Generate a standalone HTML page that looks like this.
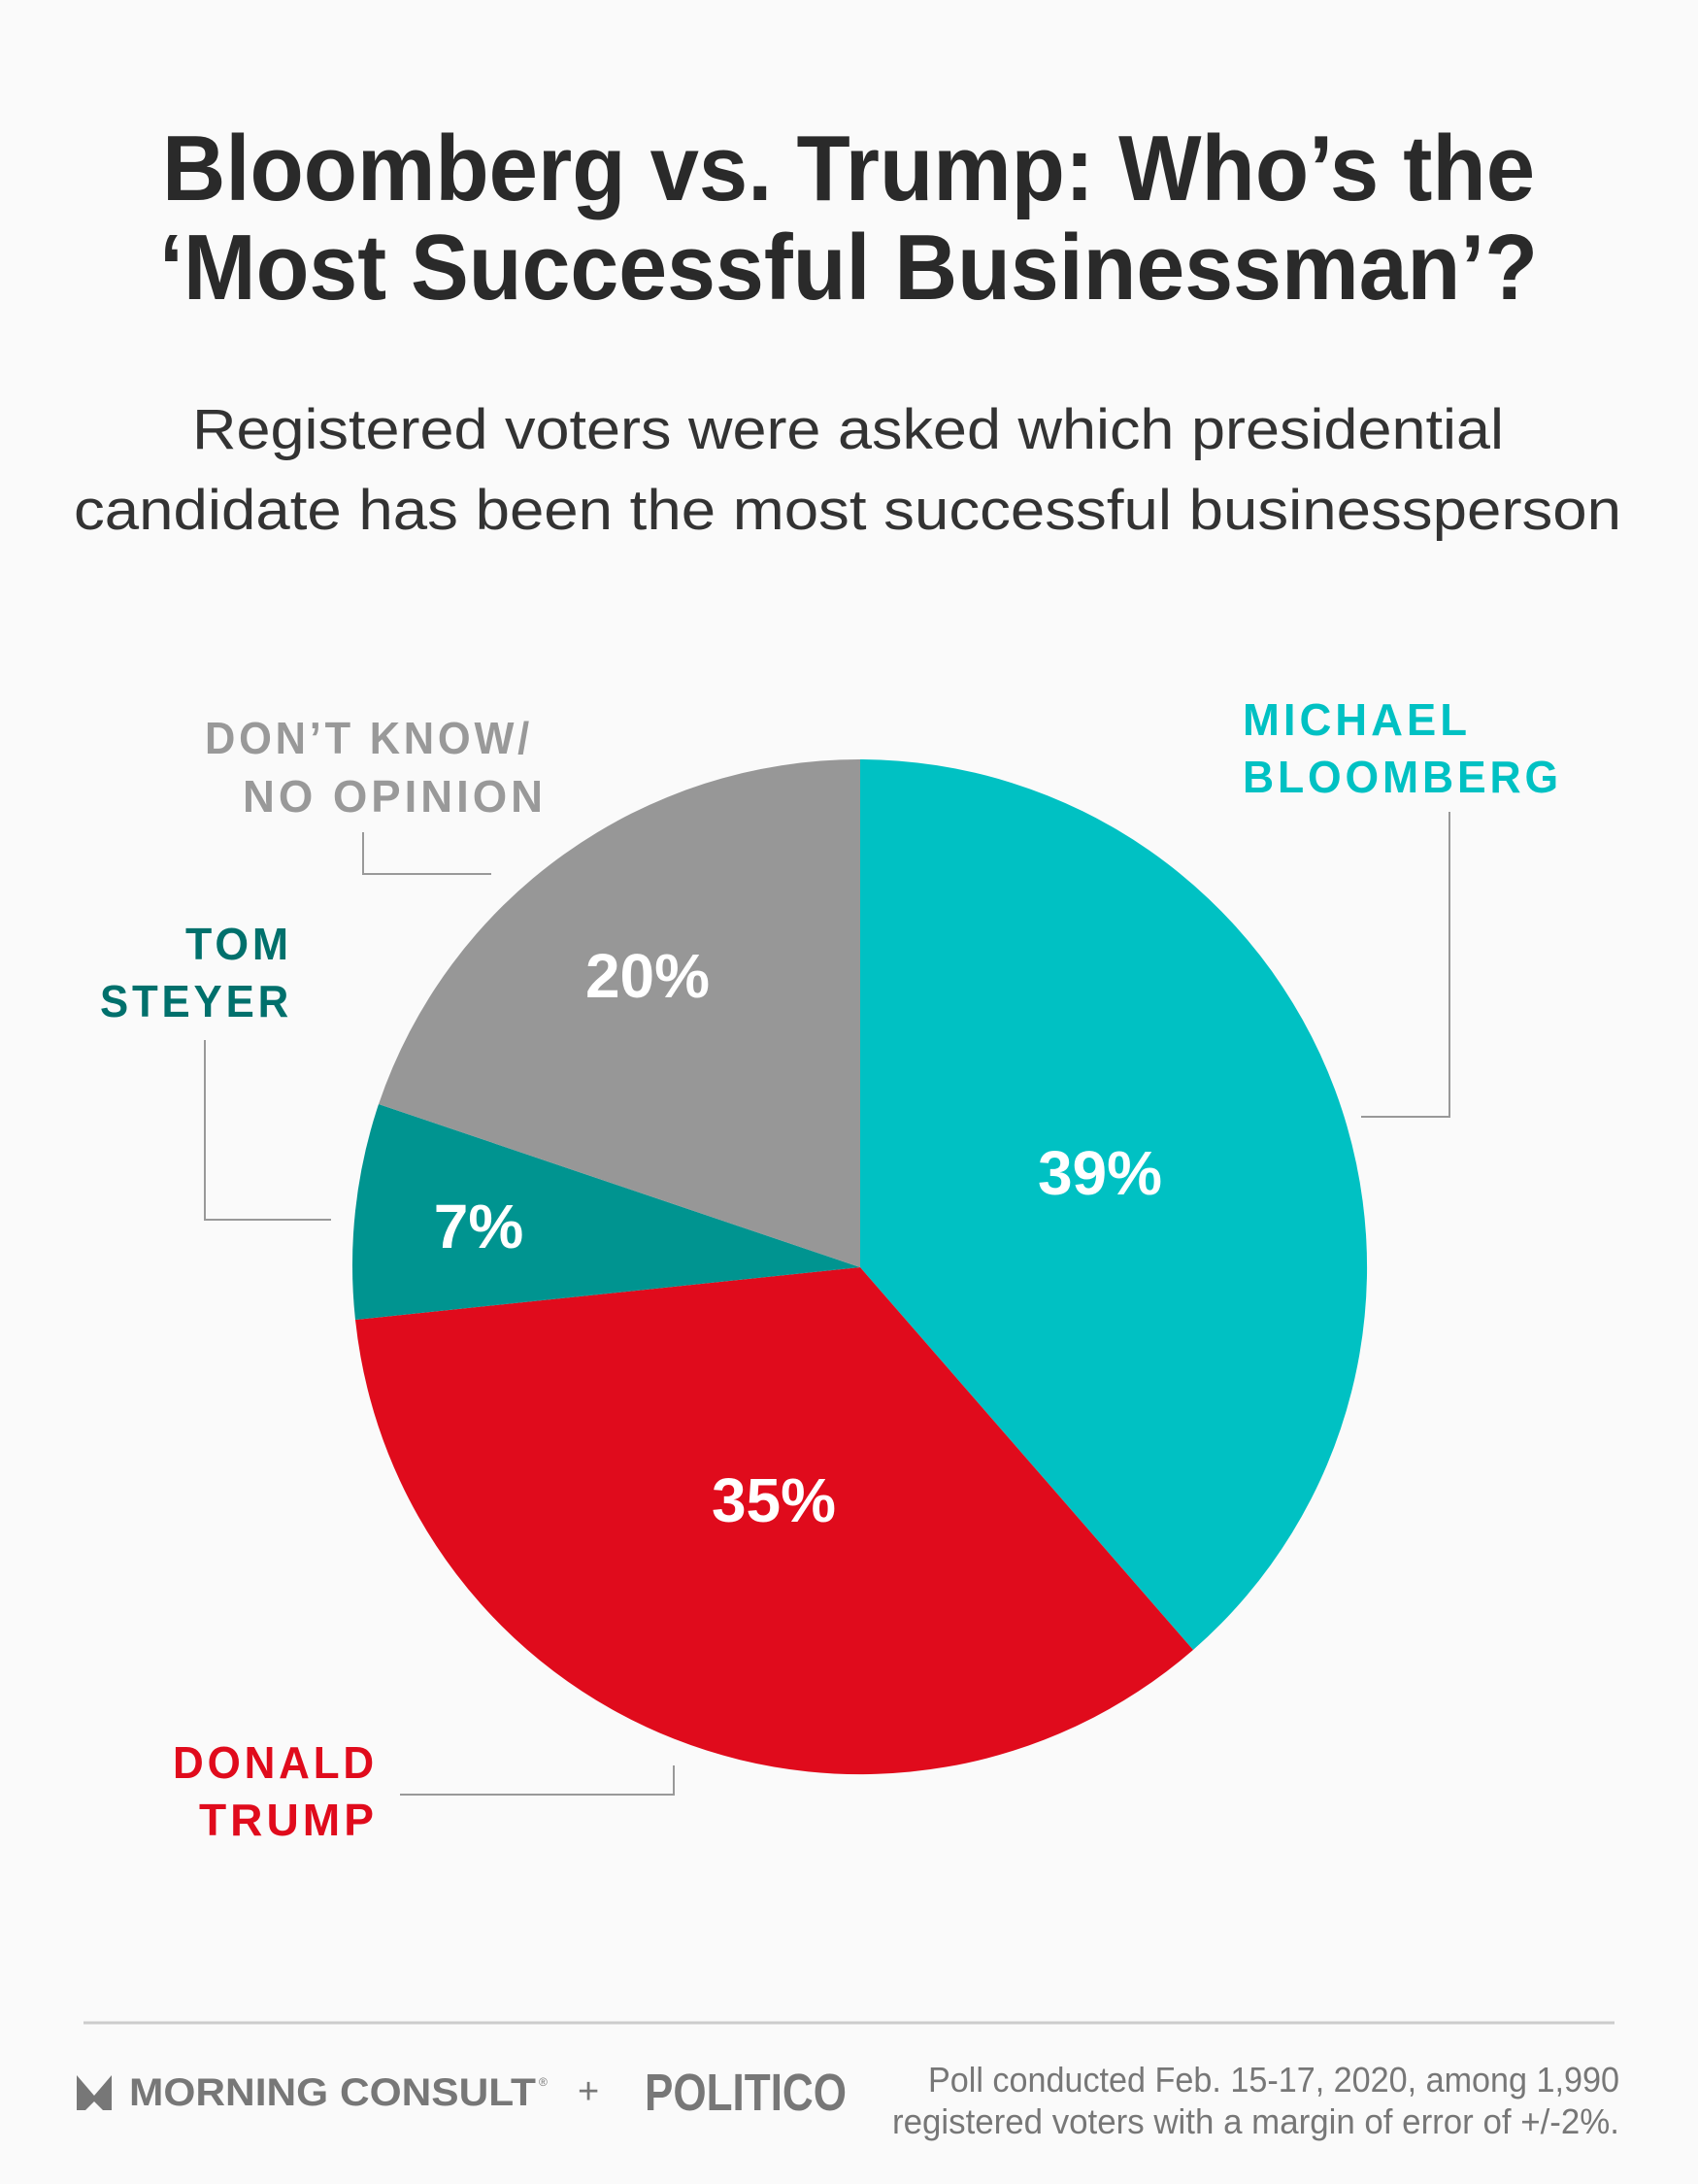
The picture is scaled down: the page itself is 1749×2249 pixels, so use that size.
<!DOCTYPE html>
<html><head><meta charset="utf-8"><style>
html,body{margin:0;padding:0;background:#fafafa}
svg{display:block}
text{font-family:"Liberation Sans",sans-serif}
</style></head><body>
<svg width="1749" height="2249" viewBox="0 0 1749 2249" xmlns="http://www.w3.org/2000/svg">
<rect width="1749" height="2249" fill="#fafafa"/>
<g fill="#2a2a2a" font-weight="bold" font-size="96" text-anchor="middle">
<text x="874" y="206" textLength="1414" lengthAdjust="spacingAndGlyphs">Bloomberg vs. Trump: Who’s the</text>
<text x="874" y="308" textLength="1420" lengthAdjust="spacingAndGlyphs">‘Most Successful Businessman’?</text>
</g>
<g fill="#333" font-size="58">
<text x="198" y="462" textLength="1351" lengthAdjust="spacingAndGlyphs">Registered voters were asked which presidential</text>
<text x="76" y="545" textLength="1594" lengthAdjust="spacingAndGlyphs">candidate has been the most successful businessperson</text>
</g>
<path d="M886,1305 L886,782 A523,523 0 0 1 1229,1699 Z" fill="#00c1c3"/>
<path d="M886,1305 L1229,1699 A523,523 0 0 1 366,1359 Z" fill="#e00b1c"/>
<path d="M886,1305 L366,1359 A523,523 0 0 1 390,1137 Z" fill="#009490"/>
<path d="M886,1305 L390,1137 A523,523 0 0 1 886,782 Z" fill="#979797"/>
<g fill="#fff" font-weight="bold" font-size="64" text-anchor="middle">
<text x="1133" y="1230">39%</text>
<text x="667" y="1027">20%</text>
<text x="493" y="1285">7%</text>
<text x="797" y="1567">35%</text>
</g>
<g fill="none" stroke="#999" stroke-width="2">
<polyline points="374,857 374,900 506,900"/>
<polyline points="211,1071 211,1256 341,1256"/>
<polyline points="1493,836 1493,1150 1402,1150"/>
<polyline points="694,1818 694,1848 412,1848"/>
</g>
<g font-weight="bold" font-size="46" letter-spacing="4">
<text x="1280" y="757" fill="#00c1c3" textLength="235" lengthAdjust="spacingAndGlyphs">MICHAEL</text>
<text x="1280" y="816" fill="#00c1c3" textLength="329" lengthAdjust="spacingAndGlyphs">BLOOMBERG</text>
<text x="211" y="776" fill="#999" textLength="338" lengthAdjust="spacingAndGlyphs">DON’T KNOW/</text>
<text x="250" y="836" fill="#999" textLength="313" lengthAdjust="spacingAndGlyphs">NO OPINION</text>
<text x="191" y="988" fill="#00706c" textLength="110" lengthAdjust="spacingAndGlyphs">TOM</text>
<text x="103" y="1047" fill="#00706c" textLength="198" lengthAdjust="spacingAndGlyphs">STEYER</text>
<text x="178" y="1831" fill="#e00b1c" textLength="211" lengthAdjust="spacingAndGlyphs">DONALD</text>
<text x="205" y="1890" fill="#e00b1c" textLength="184" lengthAdjust="spacingAndGlyphs">TRUMP</text>
</g>
<line x1="86" y1="2083" x2="1663" y2="2083" stroke="#ccc" stroke-width="3"/>
<path d="M79,2137 L97,2158 L115,2137 L115,2173 L106,2173 L97,2164 L88,2173 L79,2173 Z" fill="#777"/>
<text x="133" y="2168" fill="#777" font-weight="bold" font-size="40" textLength="419" lengthAdjust="spacingAndGlyphs">MORNING CONSULT</text>
<text x="555" y="2148" fill="#777" font-size="12">®</text>
<text x="595" y="2166" fill="#777" font-size="38">+</text>
<text x="664" y="2173" fill="#777" font-weight="bold" font-size="54" textLength="208" lengthAdjust="spacingAndGlyphs">POLITICO</text>
<g fill="#777" font-size="36" text-anchor="end">
<text x="1668" y="2154" textLength="712" lengthAdjust="spacingAndGlyphs">Poll conducted Feb. 15-17, 2020, among 1,990</text>
<text x="1668" y="2197" textLength="749" lengthAdjust="spacingAndGlyphs">registered voters with a margin of error of +/-2%.</text>
</g>
</svg>
</body></html>
